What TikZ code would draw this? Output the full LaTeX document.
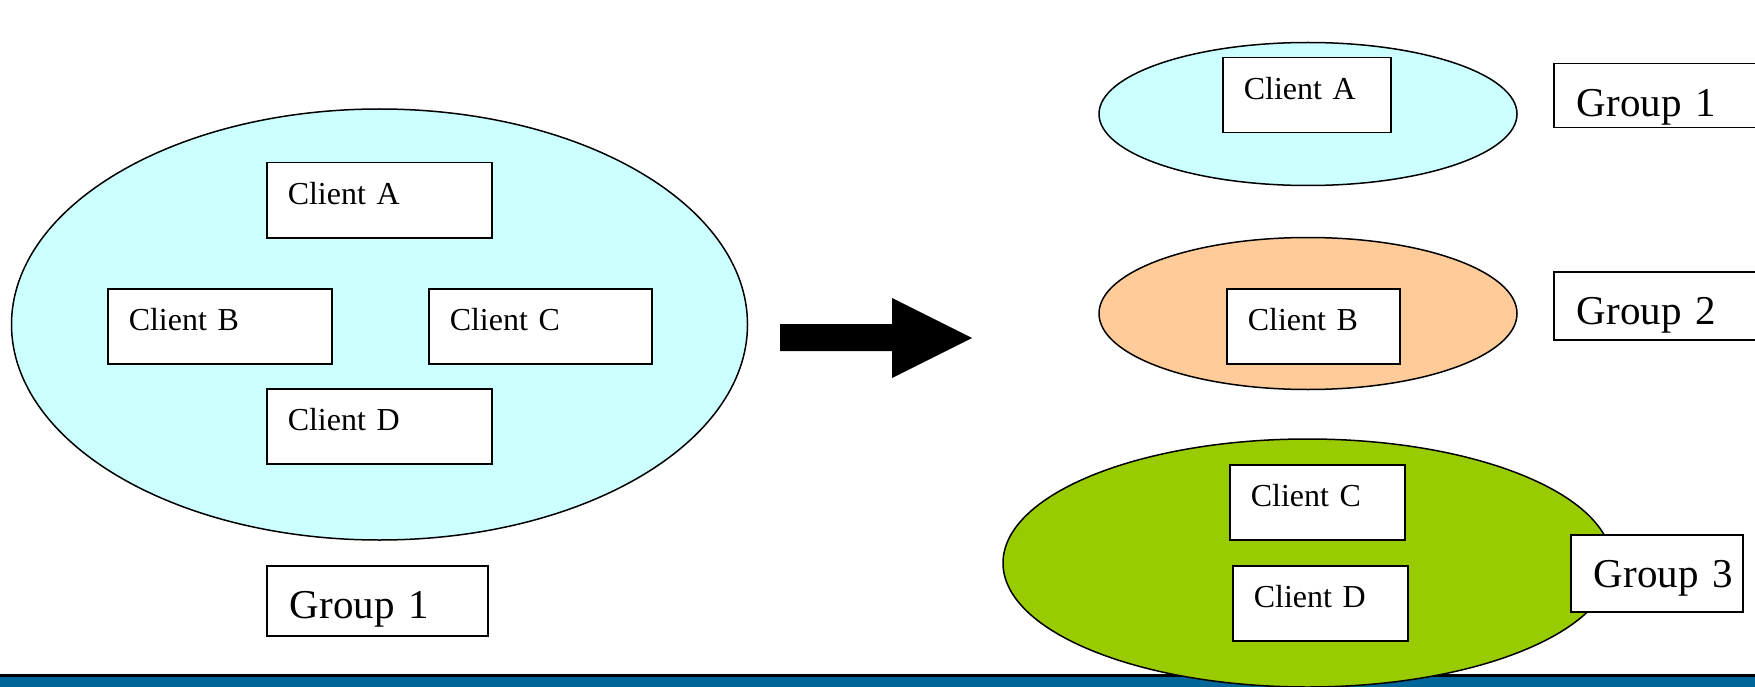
\documentclass[tikz,border=0pt]{standalone}
\usepackage{fontspec}
\setmainfont{Liberation Serif}
\usetikzlibrary{positioning, shapes}

\definecolor{cyanfill}{HTML}{CCFFFF}
\definecolor{orangefill}{HTML}{FFCC99}
\definecolor{greenfill}{HTML}{99CC00}
\definecolor{barblue}{HTML}{006699}

\begin{document}
\begin{tikzpicture}[
    x=1pt, y=-1pt,
    grp/.style={draw, ellipse, line width=1.5pt, inner sep=0pt},
    client/.style={draw, fill=white, line width=1.5pt, anchor=north west,
    inner xsep=21pt, inner ysep=0pt, align=left, text width=#1,
    text height=42pt, text depth=33pt, font=\fontsize{32}{36}\selectfont},
    group/.style={draw, fill=white, line width=1.5pt, anchor=north west,
    inner xsep=23pt, inner ysep=0pt, align=left, text width=#1,
    text height=53pt, font=\fontsize{41}{46}\selectfont}
    ]
    \useasboundingbox (0,0) rectangle (1755,687);
    \clip (0,0) rectangle (1755,687);

    % bottom bar
    \fill[barblue] (0,677) rectangle (1755,687);
    \draw[line width=2.5pt] (0,675.5) -- (1755,675.5);

    % one group before
    \node[grp, fill=cyanfill, minimum width=736pt, minimum height=431pt]  (all)  at (379.5,324.5) {};
    \node[client=183pt]  (cA)  at (266,162)  {Client A};
    \node[client=182pt]  (cB)  at (107,288)  {Client B};
    \node[client=181pt]  (cC)  at (428,288)  {Client C};
    \node[client=183pt]  (cD)  at (266,388)  {Client D};
    \node[group=175pt, text depth=17pt]  (g0)  at (266,565)  {Group 1};

    % split arrow
    \fill (780,324) -- (892,324) -- (892,298) -- (972,338)
      -- (892,378) -- (892,351) -- (780,351) -- cycle;

    % three groups after
    \node[grp, fill=cyanfill, minimum width=418pt, minimum height=143pt]    (e1)  at (1308,114)   {};
    \node[grp, fill=orangefill, minimum width=418pt, minimum height=152pt]  (e2)  at (1308,313.5) {};
    \node[grp, fill=greenfill, minimum width=609pt, minimum height=248pt]   (e3)  at (1307.5,563) {};

    \node[client=126pt]  (rA)  at (1222,57)   {Client A};
    \node[client=131pt]  (rB)  at (1226,288)  {Client B};
    \node[client=133pt]  (rC)  at (1229,464)  {Client C};
    \node[client=133pt]  (rD)  at (1232,565)  {Client D};

    \node[group=184pt, text depth=11pt]  (g1)  at (1553,63)   {Group 1};
    \node[group=184pt, text depth=15pt]  (g2)  at (1553,271)  {Group 2};
    \node[group=126pt, text depth=24pt]  (g3)  at (1570,534)  {\mbox{Group 3}};
  \end{tikzpicture}
\end{document}
